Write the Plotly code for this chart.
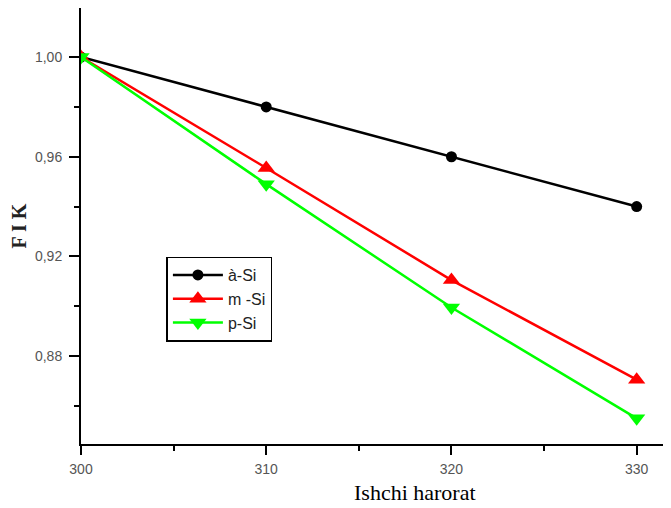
import plotly.graph_objects as go

temps = [300, 310, 320, 330]
a_si = [1.00, 0.98, 0.96, 0.94]
m_si = [1.00, 0.9555, 0.9105, 0.8705]
p_si = [1.00, 0.949, 0.8995, 0.855]
names = ["à-Si", "m -Si", "p-Si"]
x_ticks = [300, 310, 320, 330]
y_ticks = [0.88, 0.92, 0.96, 1.00]
y_tick_text = ["0,88", "0,92", "0,96", "1,00"]
x_title = "Ishchi harorat"
y_title = "F I K"

fig = go.Figure()
fig.add_trace(go.Scatter(x=temps, y=a_si, name=names[0], mode="lines+markers",
                         line=dict(color="black", width=2.5),
                         marker=dict(symbol="circle", size=11, color="black")))
fig.add_trace(go.Scatter(x=temps, y=m_si, name=names[1], mode="lines+markers",
                         line=dict(color="#ff0000", width=2.5),
                         marker=dict(symbol="triangle-up", size=15, color="#ff0000")))
fig.add_trace(go.Scatter(x=temps, y=p_si, name=names[2], mode="lines+markers",
                         line=dict(color="#00ff00", width=2.5),
                         marker=dict(symbol="triangle-down", size=15, color="#00ff00")))

fig.add_annotation(text=x_title, xref="paper", yref="paper", x=0.567, y=-0.112,
                   xanchor="center", yanchor="middle", showarrow=False,
                   font=dict(family="Times New Roman, Liberation Serif", size=22, color="black"))

fig.update_layout(
    width=671, height=508,
    margin=dict(l=73, r=9, t=0, b=72, autoexpand=False),
    plot_bgcolor="white", paper_bgcolor="white",
    showlegend=True,
    legend=dict(x=0.145, y=0.43, xanchor="left", yanchor="top",
                bordercolor="black", borderwidth=1.5,
                font=dict(family="Arial, Liberation Sans", size=16, color="#222"),
                tracegroupgap=0, itemwidth=50),
    xaxis=dict(range=[300, 331.8], tickvals=x_ticks, ticks="outside", ticklen=9,
               tickwidth=1.5, tickcolor="black", ticklabelstandoff=2,
               minor=dict(tickvals=[305, 315, 325], ticks="outside", ticklen=5, tickwidth=1.5, tickcolor="black"),
               showline=True, linecolor="black", linewidth=2, showgrid=False, zeroline=False,
               tickfont=dict(family="Arial, Liberation Sans", size=14, color="#555")),
    yaxis=dict(range=[0.8447, 1.0197], tickvals=y_ticks, ticktext=y_tick_text, ticks="outside",
               ticklen=10, tickwidth=1.5, tickcolor="black", ticklabelstandoff=4,
               minor=dict(tickvals=[0.86, 0.90, 0.94, 0.98], ticks="outside", ticklen=5, tickwidth=1.5, tickcolor="black"),
               showline=True, linecolor="black", linewidth=2, showgrid=False, zeroline=False,
               tickfont=dict(family="Arial, Liberation Sans", size=14, color="#555"),
               title=dict(text="<b>" + y_title + "</b>", font=dict(family="Times New Roman, Liberation Serif", size=20, color="#222"), standoff=4)),
)
fig.write_html("out.html")
